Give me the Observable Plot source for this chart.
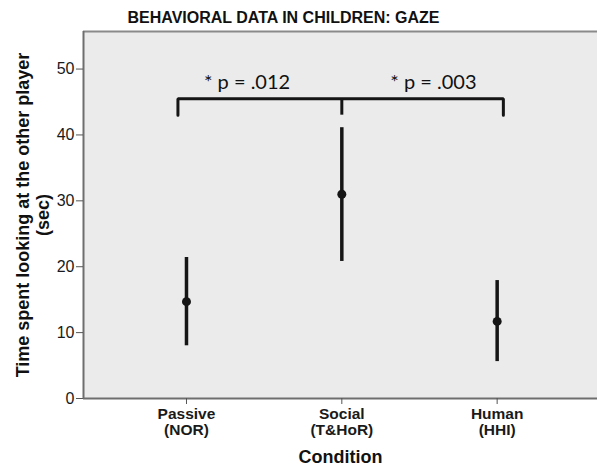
<!DOCTYPE html>
<html>
<head>
<meta charset="utf-8">
<script src="https://cdn.jsdelivr.net/npm/d3@7"></script>
<script src="https://cdn.jsdelivr.net/npm/@observablehq/plot@0.6"></script>
<style>
  html, body { margin: 0; padding: 0; background: #fff; }
</style>
</head>
<body>
<div id="chart"></div>
<script>
// ---- data ----
const categories = ["Passive\n(NOR)", "Social\n(T&HoR)", "Human\n(HHI)"];
const means = [14.7, 31.0, 11.7];
const lower = [8.0, 20.8, 5.6];
const upper = [21.4, 41.1, 17.9];
const yTicks = [0, 10, 20, 30, 40, 50];

// significance bracket
const bracketX = [-0.055, 1.0, 2.04];
const bracketTop = 45.5;
const bracketBottom = 43.0;
const pLabels = ["* p = .012", "* p = .003"];
const pLabelX = [0.39, 1.59];
const pLabelY = 48.0;

const title = "BEHAVIORAL DATA IN CHILDREN: GAZE";
const yLabel = "Time spent looking at the other player\n(sec)";
const xLabel = "Condition";

const data = categories.map((c, i) => ({i, c, mean: means[i], lo: lower[i], hi: upper[i]}));
const xDomain = [-0.663, 2.646];
const yDomain = [0, 55.7];

const bracketPath = [
  {x: bracketX[0], y: bracketBottom},
  {x: bracketX[0], y: bracketTop},
  {x: bracketX[2], y: bracketTop},
  {x: bracketX[2], y: bracketBottom}
];

const chart = Plot.plot({
  width: 597,
  height: 467,
  marginTop: 31,
  marginLeft: 83,
  marginRight: 0,
  marginBottom: 69,
  style: {fontFamily: "Liberation Sans, Arial, sans-serif", background: "#fff", color: "#1a1a1a"},
  x: {type: "linear", domain: xDomain},
  y: {domain: yDomain},
  marks: [
    Plot.frame({fill: "#ebebeb", stroke: "none"}),
    Plot.ruleY([yDomain[0]], {stroke: "#6e6e6e", strokeWidth: 2}),
    Plot.ruleY([yDomain[1]], {stroke: "#8a8a8a", strokeWidth: 2}),
    Plot.ruleX([xDomain[0]], {stroke: "#6e6e6e", strokeWidth: 2}),
    Plot.axisY({ticks: yTicks, tickSize: 7, tickPadding: 2, fontSize: 16, label: null, stroke: "#555", color: "#1a1a1a"}),
    Plot.axisX({ticks: [0, 1, 2], tickSize: 6, tickPadding: 3, fontSize: 15.5, fontWeight: "bold", lineHeight: 1.05,
      tickFormat: d => categories[d], label: null, stroke: "#555", color: "#1a1a1a"}),
    Plot.ruleX(data, {x: "i", y1: "lo", y2: "hi", stroke: "#151515", strokeWidth: 3.5}),
    Plot.dot(data, {x: "i", y: "mean", r: 4.5, fill: "#151515", stroke: "none"}),
    Plot.line(bracketPath, {x: "x", y: "y", stroke: "#151515", strokeWidth: 3, strokeLinejoin: "miter", curve: "linear"}),
    Plot.ruleX([bracketX[1]], {y1: bracketBottom, y2: bracketTop, stroke: "#151515", strokeWidth: 3}),
    Plot.text(pLabels, {x: (d, i) => pLabelX[i], y: pLabelY, text: d => d, fontSize: 20,
      fontFamily: "Lato, Open Sans, sans-serif", fill: "#111", textAnchor: "middle", lineAnchor: "middle"}),
    Plot.text([title], {frameAnchor: "top", dx: -57, dy: -14, text: d => d, fontSize: 16, fontWeight: "bold",
      fill: "#111", textAnchor: "middle", lineAnchor: "middle"}),
    Plot.text([xLabel], {frameAnchor: "bottom", dy: 59, text: d => d, fontSize: 18, fontWeight: "bold",
      fill: "#111", textAnchor: "middle", lineAnchor: "middle"}),
    Plot.text([yLabel], {frameAnchor: "left", dx: -51, dy: 0, rotate: -90, text: d => d, fontSize: 18,
      fontWeight: "bold", fill: "#111", textAnchor: "middle", lineAnchor: "middle", lineHeight: 1.1})
  ]
});
document.getElementById("chart").appendChild(chart);
</script>
</body>
</html>
